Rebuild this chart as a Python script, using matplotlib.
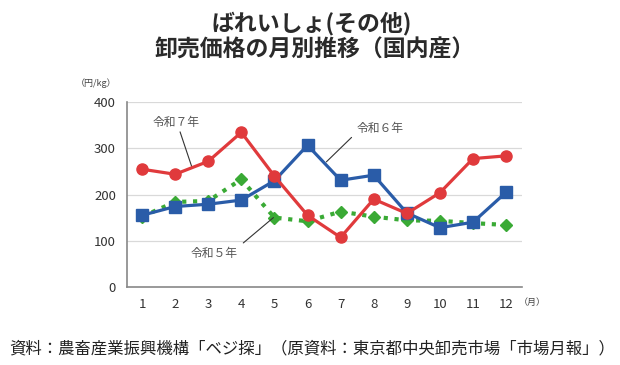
import matplotlib
matplotlib.use("Agg")
import matplotlib.pyplot as plt

plt.rcParams['font.family'] = ['Noto Sans CJK JP', 'DejaVu Sans']

months = [1, 2, 3, 4, 5, 6, 7, 8, 9, 10, 11, 12]
r7 = [255, 244, 272, 335, 240, 155, 107, 190, 159, 204, 278, 284]
r6 = [155, 174, 179, 188, 230, 307, 231, 242, 160, 128, 140, 205]
r5 = [152, 184, 186, 233, 150, 142, 163, 152, 144, 143, 138, 134]

fig = plt.figure(figsize=(6.2, 3.65), dpi=100)
ax = fig.add_axes([0.205, 0.2145, 0.637, 0.505])

ax.plot(months, r5, color="#3aaa35", linestyle=(0, (1, 1.6)), linewidth=3,
        marker="D", markersize=6.5, zorder=2)
ax.plot(months, r6, color="#2a5ca8", linewidth=2.3, marker="s", markersize=8, zorder=3)
ax.plot(months, r7, color="#e03a3c", linewidth=2.3, marker="o", markersize=8, zorder=4)

ax.set_xlim(0.55, 12.48)
ax.set_ylim(0, 400)
ax.set_xticks(months)
ax.set_yticks([0, 100, 200, 300, 400])
ax.tick_params(length=0, labelsize=9.5, colors="#333333", pad=8)
ax.yaxis.grid(True, color="#d9d9d9", linewidth=0.9)
ax.set_axisbelow(True)
for s in ["top", "right"]:
    ax.spines[s].set_visible(False)
ax.spines["left"].set_color("#888888")
ax.spines["bottom"].set_color("#888888")
ax.spines["left"].set_linewidth(1.2)
ax.spines["bottom"].set_linewidth(1.2)

# series labels and leader lines
lbl = dict(fontsize=8.5, color="#555555", ha="center", va="center")
line = dict(arrowstyle="-", color="#333333", lw=0.8, shrinkA=0, shrinkB=0)
ax.text(2.03, 357, "令和７年", **lbl)
ax.annotate("", xy=(2.5, 261), xytext=(2.15, 336), arrowprops=line)
ax.text(8.19, 344, "令和６年", **lbl)
ax.annotate("", xy=(6.57, 271), xytext=(7.33, 324), arrowprops=line)
ax.text(3.18, 73, "令和５年", **lbl)
ax.annotate("", xy=(4.97, 150), xytext=(4.06, 95), arrowprops=line)

fig.text(0.155, 0.773, "（円/kg）", fontsize=6.5, color="#444444", ha="center", va="center")
fig.text(0.858, 0.172, "（月）", fontsize=6.5, color="#444444", ha="center", va="center")

fig.text(0.503, 0.937, "ばれいしょ(その他)", fontsize=16.5, fontweight="bold",
         color="#2a2a2a", ha="center", va="center")
fig.text(0.508, 0.863, "卸売価格の月別推移（国内産）", fontsize=16.5, fontweight="bold",
         color="#2a2a2a", ha="center", va="center")
fig.text(0.503, 0.044, "資料：農畜産業振興機構「ベジ探」（原資料：東京都中央卸売市場「市場月報」）",
         fontsize=11.8, color="#222222", ha="center", va="center")

fig.savefig("out.png", dpi=100)
